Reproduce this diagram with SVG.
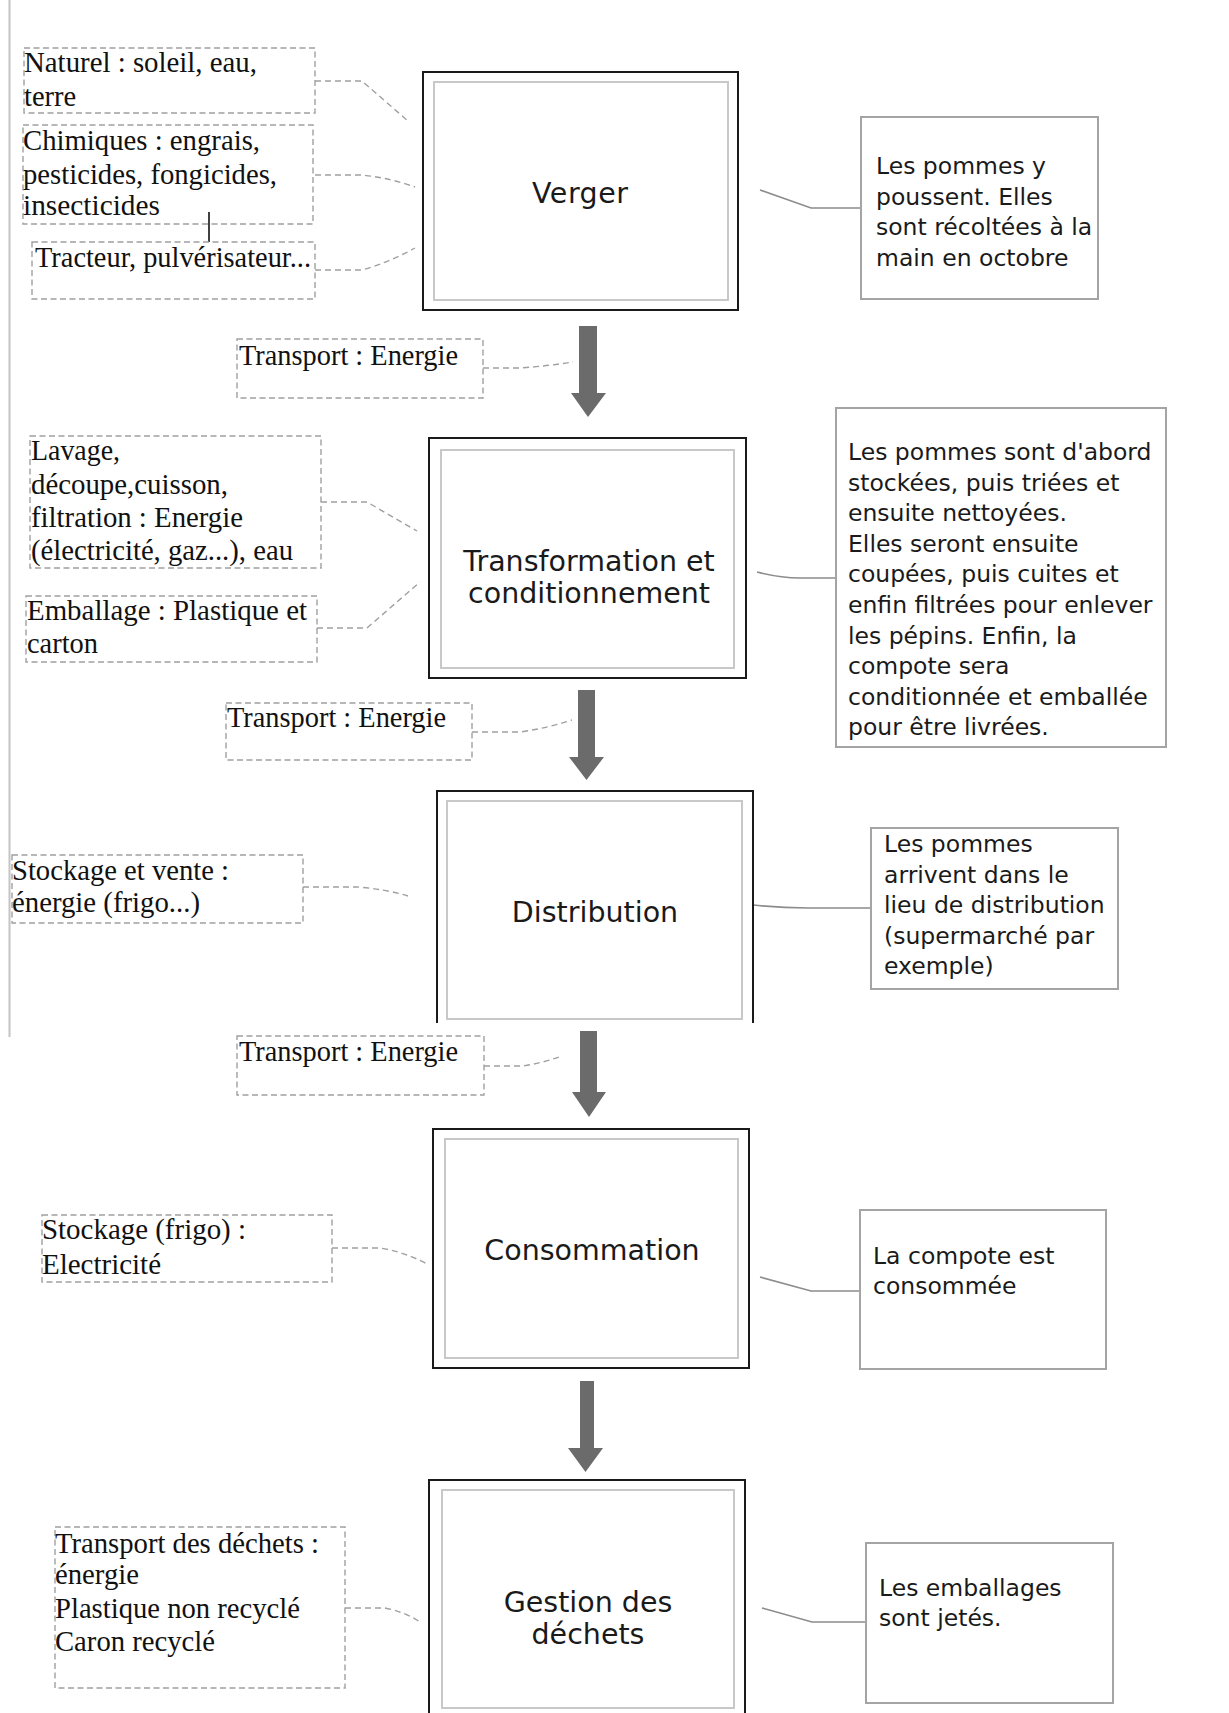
<svg xmlns="http://www.w3.org/2000/svg" width="1229" height="1713" viewBox="0 0 1229 1713">
<style>
.bg{fill:#fff}
.outer{fill:#fff;stroke:#1a1a1a;stroke-width:2}
.inner{fill:none;stroke:#c8c8c8;stroke-width:2}
.desc{fill:#fff;stroke:#a4a4a4;stroke-width:2}
.dbox{fill:none;stroke:#a0a0a0;stroke-width:1.4;stroke-dasharray:6 3.5}
.dline{fill:none;stroke:#a0a0a0;stroke-width:1.4;stroke-dasharray:6 4}
.sline{fill:none;stroke:#8c8c8c;stroke-width:1.6}
.arrow{fill:#6b6b6b}
.serif{font-family:"Liberation Serif","Times New Roman",serif;font-size:28.5px;fill:#111}
.label{font-family:"DejaVu Sans",Verdana,sans-serif;font-size:28.5px;fill:#1a1a1a;text-anchor:middle}
.dtext{font-family:"DejaVu Sans",Verdana,sans-serif;font-size:23.5px;fill:#1a1a1a}
</style>
<rect class="bg" x="0" y="0" width="1229" height="1713"/>
<line x1="9.5" y1="0" x2="9.5" y2="1037" stroke="#c4c4c4" stroke-width="2"/>

<g id="connectors">
  <path class="dline" d="M315,81 H362 L408,121"/>
  <path class="dline" d="M315,175 H362 Q390,178 415,187"/>
  <path class="dline" d="M315,270 H362 Q390,262 415,248"/>
  <path class="dline" d="M483,368 H520 Q548,366 573,362"/>
  <path class="dline" d="M321,502 H367 L417,531"/>
  <path class="dline" d="M317,628 H367 L420,582"/>
  <path class="dline" d="M472,732 H520 Q548,728 572,720"/>
  <path class="dline" d="M303,887 H357 Q385,889 408,896"/>
  <path class="dline" d="M484,1066 H523 Q542,1063 559,1057"/>
  <path class="dline" d="M332,1248 H380 Q405,1252 427,1264"/>
  <path class="dline" d="M345,1608 H385 Q405,1612 420,1622"/>
  <path class="sline" d="M760,190 L811,208 H861"/>
  <path class="sline" d="M757,572 Q780,578 800,578 H836"/>
  <path class="sline" d="M753,905 Q780,908 808,908 H871"/>
  <path class="sline" d="M760,1277 L811,1291 H860"/>
  <path class="sline" d="M762,1608 L812,1622 H866"/>
  <line x1="209" y1="212" x2="209" y2="242" stroke="#111" stroke-width="1.6"/>
  <path class="arrow" d="M579,326 H597 V393 H606 L588,417 L571,393 H579 Z"/>
  <path class="arrow" d="M578,690 H595 V757 H604 L586.5,780 L569,757 H578 Z"/>
  <path class="arrow" d="M580,1027 H597 V1092 H606 L589,1117 L572,1092 H580 Z"/>
  <path class="arrow" d="M580,1381 H594 V1448 H603 L585.5,1472 L568,1448 H580 Z"/>
</g>

<g id="naturel">
  <rect class="dbox" x="24" y="48" width="291" height="65"/>
  <text class="serif" x="24" y="72" textLength="233" lengthAdjust="spacingAndGlyphs">Naturel : soleil, eau,</text>
  <text class="serif" x="24" y="106">terre</text>
</g>
<g id="chimiques">
  <rect class="dbox" x="23" y="125" width="290" height="99"/>
  <text class="serif" x="23" y="150" textLength="237" lengthAdjust="spacingAndGlyphs">Chimiques : engrais,</text>
  <text class="serif" x="23" y="184" textLength="254" lengthAdjust="spacingAndGlyphs">pesticides, fongicides,</text>
  <text class="serif" x="23" y="215" textLength="137" lengthAdjust="spacingAndGlyphs">insecticides</text>
</g>
<g id="tracteur">
  <rect class="dbox" x="32" y="242" width="283" height="57"/>
  <text class="serif" x="35" y="267" textLength="276" lengthAdjust="spacingAndGlyphs">Tracteur, pulvérisateur...</text>
</g>
<g id="verger">
  <rect class="outer" x="423" y="72" width="315" height="238"/>
  <rect class="inner" x="434" y="82" width="294" height="218"/>
  <text class="label" x="580" y="203" textLength="96" lengthAdjust="spacing">Verger</text>
</g>
<g id="verger-desc">
  <rect class="desc" x="861" y="117" width="237" height="182"/>
  <text class="dtext" x="876" y="174">Les pommes y</text>
  <text class="dtext" x="876" y="204.5">poussent. Elles</text>
  <text class="dtext" x="876" y="235">sont récoltées à la</text>
  <text class="dtext" x="876" y="265.5">main en octobre</text>
</g>
<g id="transport1">
  <rect class="dbox" x="237" y="339" width="246" height="59"/>
  <text class="serif" x="239" y="365" textLength="219" lengthAdjust="spacingAndGlyphs">Transport : Energie</text>
</g>
<g id="lavage">
  <rect class="dbox" x="30" y="436" width="291" height="132"/>
  <text class="serif" x="31" y="460" textLength="89" lengthAdjust="spacingAndGlyphs">Lavage,</text>
  <text class="serif" x="31" y="494" textLength="197" lengthAdjust="spacingAndGlyphs">découpe,cuisson,</text>
  <text class="serif" x="31" y="527" textLength="212" lengthAdjust="spacingAndGlyphs">filtration : Energie</text>
  <text class="serif" x="31" y="560" textLength="262" lengthAdjust="spacingAndGlyphs">(électricité, gaz...), eau</text>
</g>
<g id="emballage">
  <rect class="dbox" x="26" y="596" width="291" height="66"/>
  <text class="serif" x="27" y="620" textLength="280" lengthAdjust="spacingAndGlyphs">Emballage : Plastique et</text>
  <text class="serif" x="27" y="653" textLength="71" lengthAdjust="spacingAndGlyphs">carton</text>
</g>
<g id="transformation">
  <rect class="outer" x="429" y="438" width="317" height="240"/>
  <rect class="inner" x="441" y="450" width="293" height="218"/>
  <text class="label" x="589" y="571">Transformation et</text>
  <text class="label" x="589" y="603">conditionnement</text>
</g>
<g id="transformation-desc">
  <rect class="desc" x="836" y="408" width="330" height="339"/>
  <text class="dtext" x="848" y="460">Les pommes sont d'abord</text>
  <text class="dtext" x="848" y="490.6">stockées, puis triées et</text>
  <text class="dtext" x="848" y="521.2">ensuite nettoyées.</text>
  <text class="dtext" x="848" y="551.8">Elles seront ensuite</text>
  <text class="dtext" x="848" y="582.4">coupées, puis cuites et</text>
  <text class="dtext" x="848" y="613">enfin filtrées pour enlever</text>
  <text class="dtext" x="848" y="643.6">les pépins. Enfin, la</text>
  <text class="dtext" x="848" y="674.2">compote sera</text>
  <text class="dtext" x="848" y="704.8">conditionnée et emballée</text>
  <text class="dtext" x="848" y="735.4">pour être livrées.</text>
</g>
<g id="transport2">
  <rect class="dbox" x="226" y="703" width="246" height="57"/>
  <text class="serif" x="227" y="727" textLength="219" lengthAdjust="spacingAndGlyphs">Transport : Energie</text>
</g>
<g id="stockage-vente">
  <rect class="dbox" x="12" y="855" width="291" height="68"/>
  <text class="serif" x="12" y="880" textLength="217" lengthAdjust="spacingAndGlyphs">Stockage et vente :</text>
  <text class="serif" x="12" y="912" textLength="188" lengthAdjust="spacingAndGlyphs">énergie (frigo...)</text>
</g>
<g id="distribution">
  <rect x="437" y="791" width="316" height="240" fill="#fff"/>
  <path d="M437,1023 V791 H753 V1023" fill="none" stroke="#1a1a1a" stroke-width="2"/>
  <rect class="inner" x="447" y="801" width="295" height="218"/>
  <text class="label" x="595" y="922">Distribution</text>
</g>
<g id="distribution-desc">
  <rect class="desc" x="871" y="828" width="247" height="161"/>
  <text class="dtext" x="884" y="852">Les pommes</text>
  <text class="dtext" x="884" y="882.5">arrivent dans le</text>
  <text class="dtext" x="884" y="913">lieu de distribution</text>
  <text class="dtext" x="884" y="943.5">(supermarché par</text>
  <text class="dtext" x="884" y="974">exemple)</text>
</g>
<g id="transport3">
  <rect class="dbox" x="237" y="1036" width="247" height="59"/>
  <text class="serif" x="239" y="1061" textLength="219" lengthAdjust="spacingAndGlyphs">Transport : Energie</text>
</g>
<g id="stockage-frigo">
  <rect class="dbox" x="42" y="1215" width="290" height="67"/>
  <text class="serif" x="42" y="1239" textLength="204" lengthAdjust="spacingAndGlyphs">Stockage (frigo) :</text>
  <text class="serif" x="42" y="1274" textLength="119" lengthAdjust="spacingAndGlyphs">Electricité</text>
</g>
<g id="consommation">
  <rect class="outer" x="433" y="1129" width="316" height="239"/>
  <rect class="inner" x="445" y="1139" width="293" height="219"/>
  <text class="label" x="592" y="1260">Consommation</text>
</g>
<g id="consommation-desc">
  <rect class="desc" x="860" y="1210" width="246" height="159"/>
  <text class="dtext" x="873" y="1264">La compote est</text>
  <text class="dtext" x="873" y="1294">consommée</text>
</g>
<g id="dechets-inputs">
  <rect class="dbox" x="55" y="1527" width="290" height="161"/>
  <text class="serif" x="55" y="1553" textLength="264" lengthAdjust="spacingAndGlyphs">Transport des déchets :</text>
  <text class="serif" x="55" y="1584" textLength="84" lengthAdjust="spacingAndGlyphs">énergie</text>
  <text class="serif" x="55" y="1618" textLength="245" lengthAdjust="spacingAndGlyphs">Plastique non recyclé</text>
  <text class="serif" x="55" y="1651" textLength="160" lengthAdjust="spacingAndGlyphs">Caron recyclé</text>
</g>
<g id="gestion">
  <rect class="outer" x="429" y="1480" width="316" height="250"/>
  <rect class="inner" x="442" y="1490" width="292" height="218"/>
  <text class="label" x="588" y="1612">Gestion des</text>
  <text class="label" x="588" y="1644">déchets</text>
</g>
<g id="gestion-desc">
  <rect class="desc" x="866" y="1543" width="247" height="160"/>
  <text class="dtext" x="879" y="1596">Les emballages</text>
  <text class="dtext" x="879" y="1626">sont jetés.</text>
</g>
</svg>
